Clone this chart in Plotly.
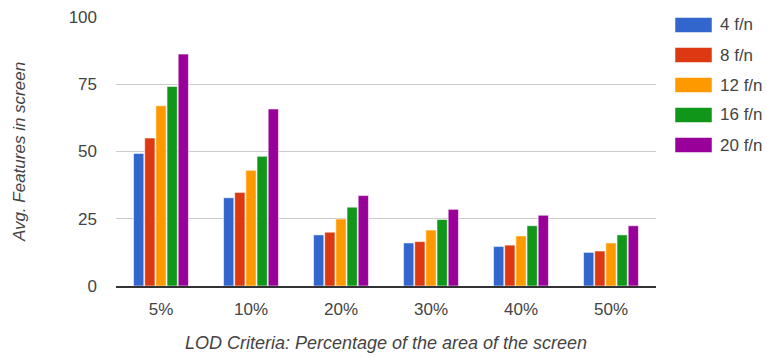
import plotly.graph_objects as go

# LOD criteria (percentage of screen area) on the x axis
categories = ["5%", "10%", "20%", "30%", "40%", "50%"]

# Average features in screen for each features-per-node setting
series_names = ["4 f/n", "8 f/n", "12 f/n", "16 f/n", "20 f/n"]
values_4 = [49.3, 32.8, 19.0, 16.0, 14.7, 12.5]
values_8 = [55.0, 34.8, 20.0, 16.5, 15.2, 13.0]
values_12 = [67.0, 43.0, 24.9, 20.8, 18.6, 16.0]
values_16 = [74.2, 48.2, 29.3, 24.7, 22.4, 19.0]
values_20 = [86.2, 65.8, 33.6, 28.5, 26.3, 22.4]
series_values = [values_4, values_8, values_12, values_16, values_20]

y_ticks = [0, 25, 50, 75, 100]

colors = ["#3366cc", "#dc3912", "#ff9900", "#109618", "#990099"]
font_family = "Liberation Sans, Arial, sans-serif"
text_color = "#444444"

fig = go.Figure()
for name, vals, col in zip(series_names, series_values, colors):
    fig.add_trace(go.Bar(
        x=categories, y=vals, name=name,
        marker=dict(color=col, line=dict(color="rgba(255,255,255,0.55)", width=1)),
        showlegend=False,
    ))

# Legend drawn as large colour swatches with labels on the right side
for i, (name, col) in enumerate(zip(series_names, colors)):
    yc = 25 + 30 * i
    fig.add_shape(type="rect", xref="paper", yref="paper",
                  x0=(675 - 116) / 540, x1=(712 - 116) / 540,
                  y0=(286 - (yc + 7.5)) / 269, y1=(286 - (yc - 7.5)) / 269,
                  fillcolor=col, line=dict(color="rgba(255,255,255,0.5)", width=1))
    fig.add_annotation(x=(718 - 116) / 540, y=(286 - yc) / 269, xref="paper", yref="paper",
                       text=name, showarrow=False, xanchor="left", yanchor="middle",
                       font=dict(family=font_family, size=17, color=text_color))

fig.update_layout(
    width=767, height=358,
    margin=dict(l=116, r=111, t=17, b=72),
    paper_bgcolor="white", plot_bgcolor="white",
    barmode="group", bargap=0.38, bargroupgap=0.08,
    font=dict(family=font_family, size=17, color=text_color),
    xaxis=dict(
        automargin=False,
        showline=True, linecolor="#333333", linewidth=1.5,
        showgrid=False, ticks="", ticklabelstandoff=7,
        tickfont=dict(size=17, color=text_color),
        title=dict(text="<i>LOD Criteria: Percentage of the area of the screen</i>",
                   font=dict(size=18, color=text_color), standoff=18),
    ),
    yaxis=dict(
        automargin=False,
        range=[0, 100], tickvals=y_ticks, showgrid=True, gridcolor="#cccccc",
        gridwidth=1, zeroline=False, ticks="", ticklabelstandoff=18,
        tickfont=dict(size=17, color=text_color),
        title=dict(text="<i>Avg. Features in screen</i>",
                   font=dict(size=17, color=text_color), standoff=38),
    ),
)

fig.write_html("out.html")
